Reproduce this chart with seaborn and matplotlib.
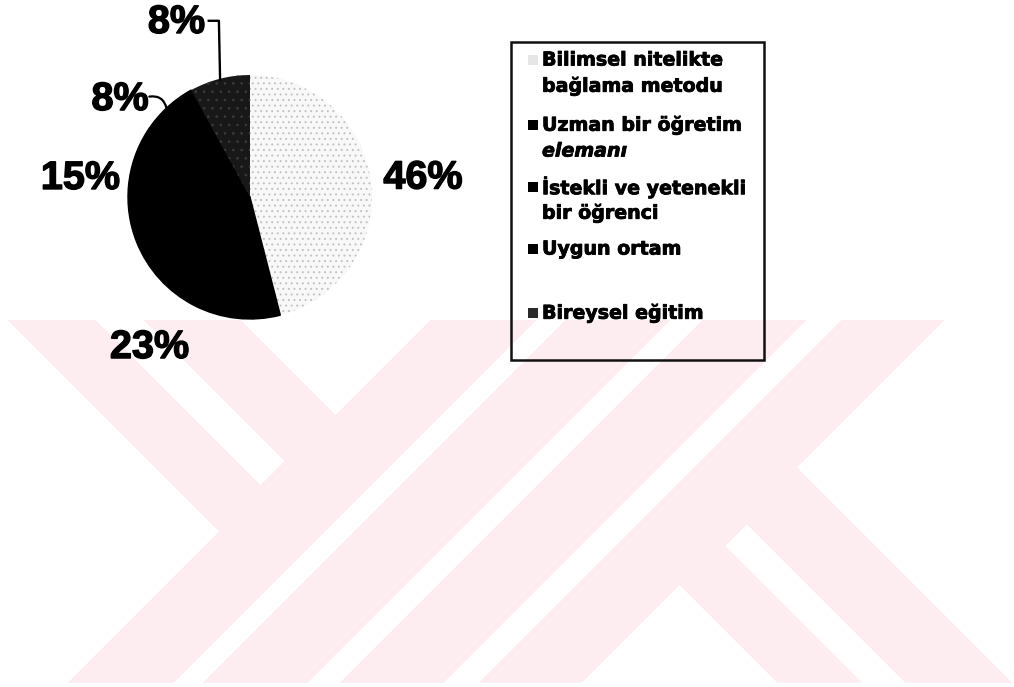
import numpy as np
import matplotlib
matplotlib.use('Agg')
import matplotlib.pyplot as plt
import matplotlib.patheffects as pe
import seaborn as sns
from matplotlib.patches import Rectangle

# ---------------- data ----------------
categories = ['Bilimsel nitelikte\nbağlama metodu',
              'Uzman bir öğretim\nelemanı',
              'İstekli ve yetenekli\nbir öğrenci',
              'Uygun ortam',
              'Bireysel eğitim']
values = [46, 23, 15, 8, 8]
pct_labels = ['46%', '23%', '15%', '8%', '8%']

# ---------------- style ----------------
slice_colors = ['#f8f8f8', '#000000', '#000000', '#000000', '#181818']
edge_colors = ['#c2c2c2', '#000000', '#000000', '#000000', '#3a3a3a']
edge_widths = [0, 1.0, 1.0, 1.0, 0]
hatches = ['...', None, None, None, '..']
legend_marker_colors = ['#e6e6e6', '#000000', '#000000', '#000000', '#2a2a2a']

sns.set_theme(style='white')
plt.rcParams['font.family'] = ['Liberation Sans', 'DejaVu Sans']
plt.rcParams['hatch.linewidth'] = 0.7

W, H = 1014, 687
fig = plt.figure(figsize=(W / 100, H / 100), dpi=100)
fig.patch.set_facecolor('white')

def fx(x):
    return x / W

def fy(y):
    return 1 - y / H

# ---------------- background watermark (decorative) ----------------
yy, xx = np.mgrid[0:H, 0:W] + 0.5
d = xx - yy
s = xx + yy
left_shape = (d >= -312) & (d <= -80) & (s <= 751) & ~((d >= -224) & (d <= -177) & (s <= 745))
bands = (((s >= 751) & (s <= 856)) | ((s >= 886) & (s <= 990)) |
         ((s >= 1023) & (s <= 1126)) | ((s >= 1162) & (s <= 1264)))
right_shape = (s >= 1264) & (d >= 95) & (d <= 329) & ~((d >= 180) & (d <= 222) & (s >= 1272))
mask = (left_shape | bands | right_shape) & (yy >= 320) & (yy <= 683) & (xx >= 4) & (xx <= 1011)
img = np.zeros((H, W, 4))
img[mask] = [253 / 255, 237 / 255, 240 / 255, 1.0]
fig.figimage(img, xo=0, yo=0, origin='upper', zorder=-10)

# ---------------- pie ----------------
R = 122.0
cx, cy = 250.0, 197.0
ax = fig.add_axes([0, 0, 1, 1])
ax.patch.set_alpha(0)
wedges, _ = ax.pie(values, colors=slice_colors, startangle=90, counterclock=False,
                   radius=1.0, wedgeprops=dict(linewidth=0))
for w, ec, lw, ht in zip(wedges, edge_colors, edge_widths, hatches):
    w.set_edgecolor(ec)
    w.set_linewidth(lw)
    if ht:
        w.set_hatch(ht)
ax.set_xlim(-cx / R, (W - cx) / R)
ax.set_ylim(-(H - cy) / R, cy / R)
ax.set_aspect('auto')
ax.axis('off')

# label layout: radial distance and angular tweak relative to wedge middle
label_r = [1.427, 1.480, 1.398, 1.334, 1.556]
label_dang = [-0.8, -6.8, -1.0, 9.8, 8.4]
heavy = [pe.withStroke(linewidth=1.0, foreground='black')]
label_font = dict(fontsize=28.5, fontweight='bold', family=['Liberation Sans', 'DejaVu Sans'],
                  color='black', ha='center', va='center', path_effects=heavy)
mids = []
for w, lab, r, da in zip(wedges, pct_labels, label_r, label_dang):
    mid = 0.5 * (w.theta1 + w.theta2)
    mids.append(mid)
    a = np.deg2rad(mid + da)
    ax.text(r * np.cos(a), r * np.sin(a), lab, **label_font)

# leader line for the last 8% slice (elbow)
a5 = np.deg2rad(mids[4])
end5 = (0.985 * np.cos(a5), 0.985 * np.sin(a5))
a5l = np.deg2rad(mids[4] + label_dang[4])
lab5 = (label_r[4] * np.cos(a5l), label_r[4] * np.sin(a5l))
ax.plot([lab5[0] + 0.255, end5[0] - 0.01, end5[0]], [lab5[1] + 0.01, lab5[1] + 0.01, end5[1]],
        color='black', lw=1.7, solid_capstyle='butt')

# leader line for the first 8% slice (small curve)
a4 = np.deg2rad(mids[3])
end4 = (1.0 * np.cos(a4), 1.0 * np.sin(a4))
a4l = np.deg2rad(mids[3] + label_dang[3])
lab4 = (label_r[3] * np.cos(a4l), label_r[3] * np.sin(a4l))
ax.annotate('', xy=end4, xytext=(lab4[0] + 0.24, lab4[1] + 0.02),
            arrowprops=dict(arrowstyle='-', color='black', lw=1.6,
                            connectionstyle='arc3,rad=-0.45', shrinkA=0, shrinkB=0))

# ---------------- legend (Excel-like box) ----------------
box = Rectangle((fx(511), fy(360)), fx(764) - fx(511), fy(42) - fy(360),
                transform=fig.transFigure, facecolor='none', edgecolor='#111111',
                linewidth=1.8, zorder=5)
fig.patches.append(box)

entry_y = [60, 125, 187, 249, 313]
line_gap = 26
marker_x, marker_size = 528, 10
text_x = 542
legend_heavy = [pe.withStroke(linewidth=0.6, foreground='black')]
for lab, col, y0 in zip(categories, legend_marker_colors, entry_y):
    fig.patches.append(Rectangle((fx(marker_x), fy(y0 + marker_size / 2)),
                                 fx(marker_size), marker_size / H,
                                 transform=fig.transFigure, facecolor=col,
                                 edgecolor='none', zorder=6))
    for i, line in enumerate(lab.split('\n')):
        style = 'italic' if line == 'elemanı' else 'normal'
        fig.text(fx(text_x), fy(y0 + i * line_gap), line, fontsize=13.7,
                 fontweight='bold', fontstyle=style, family=['DejaVu Sans'],
                 ha='left', va='center', color='black', zorder=6,
                 path_effects=legend_heavy)

fig.savefig('out.png', dpi=100)
